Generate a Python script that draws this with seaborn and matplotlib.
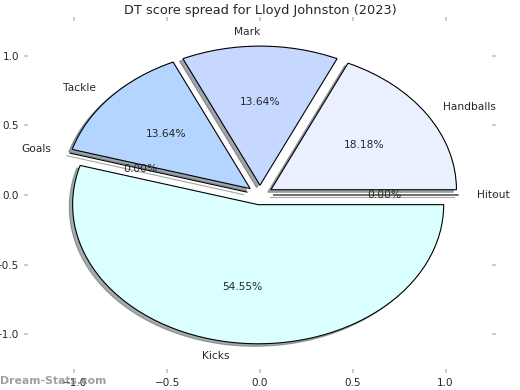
import matplotlib
matplotlib.use("Agg")
import matplotlib.pyplot as plt
import seaborn as sns

sns.set_style("white")
plt.rcParams['font.family'] = ['DejaVu Sans']

categories = ["Hitout", "Handballs", "Mark", "Tackle", "Goals", "Kicks"]
dt_points = [0, 12, 9, 9, 0, 36]
colors = ["#f0f4ff", "#eaf0ff", "#c6d8ff", "#b3d5ff", "#d0e4ff", "#d9ffff"]
explode = [0.07] * len(categories)

fig, ax = plt.subplots(figsize=(5.2, 3.9), dpi=100)
fig.subplots_adjust(left=0.054, right=0.946, bottom=0.054, top=0.946)

ax.pie(dt_points, labels=categories, colors=colors, explode=explode,
       autopct="%1.2f%%", shadow={"ox": -0.013, "oy": -0.013, "shade": 0.65},
       startangle=0, frame=True,
       wedgeprops=dict(edgecolor="black", linewidth=0.8),
       textprops=dict(fontsize=7.7))
ax.set_aspect("auto")
ax.set_xlim(-1.25, 1.25)
ax.set_ylim(-1.25, 1.25)
ax.set_xticks([-1.0, -0.5, 0.0, 0.5, 1.0])
ax.set_yticks([-1.0, -0.5, 0.0, 0.5, 1.0])
for s in ax.spines.values():
    s.set_visible(False)
ax.tick_params(axis="both", which="both", direction="out", length=3, width=1.5,
               color="#cccccc", labelsize=7.5, top=True, right=True,
               bottom=True, left=True, labeltop=False, labelright=False)
ax.set_title("DT score spread for Lloyd Johnston (2023)", fontsize=9.3, pad=5)

fig.text(0.0, 0.01, "Dream-Stats.com", fontsize=7.8, color="grey", alpha=0.75,
         fontweight="bold", ha="left", va="bottom")

fig.savefig("out.png", dpi=100)
